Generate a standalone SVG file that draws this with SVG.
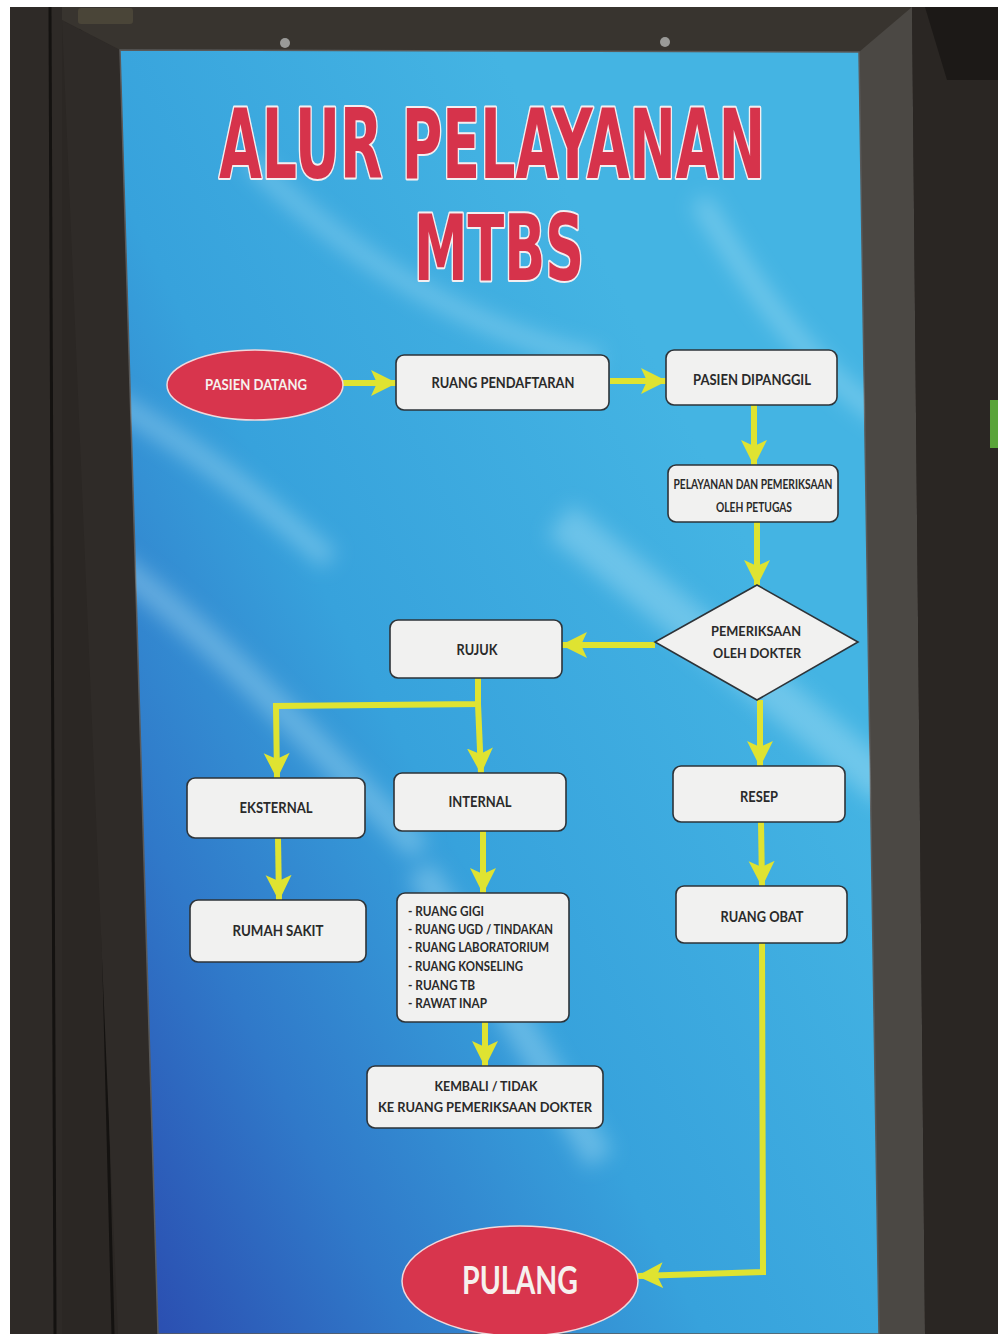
<svg xmlns="http://www.w3.org/2000/svg" width="998" height="1334" viewBox="0 0 998 1334">
<style>
.box{fill:#f1f1f0;stroke:#2d3338;stroke-width:1.6}
.t{font-family:Lato,"Open Sans","Noto Sans",sans-serif;font-weight:700;fill:#2a2a2a;font-size:15px}
.s{font-size:13px}
.big{font-size:38px}
.w{fill:#f6f1ee}
.red{fill:#d8354d;stroke:#f0d8dc;stroke-width:1.5}
.title{font-family:"Liberation Sans Narrow","DejaVu Sans Condensed","DejaVu Sans",sans-serif;font-weight:700;fill:#d6334b;stroke:#f4eef0;stroke-width:4;paint-order:stroke fill;stroke-linejoin:round}
.c{fill:none;stroke:#dfe331;stroke-width:6}
</style>
<defs>
<linearGradient id="bg" x1="0.8" y1="0.35" x2="0.05" y2="1">
<stop offset="0" stop-color="#44b4e3"/>
<stop offset="0.45" stop-color="#37a2dc"/>
<stop offset="0.75" stop-color="#3079c9"/>
<stop offset="1" stop-color="#2b4fb1"/>
</linearGradient>
<clipPath id="poster"><polygon points="120,50 859,52 879,1334 158,1334"/></clipPath>
<filter id="blur" x="-20%" y="-20%" width="140%" height="140%"><feGaussianBlur stdDeviation="10"/></filter>
<marker id="ah" markerUnits="userSpaceOnUse" markerWidth="28" markerHeight="28" refX="25" refY="13" orient="auto">
<path d="M0,0 L26,13 L0,26 L6,13 z" fill="#dfe331"/>
</marker>
</defs>
<g id="background">
<rect width="998" height="1334" fill="#ffffff"/>
<rect x="10" y="7" width="988" height="1327" fill="#2b2724"/>
<polygon points="10,7 62,7 62,1334 10,1334" fill="#2e2a27"/>
<line x1="50" y1="7" x2="55" y2="1334" stroke="#141210" stroke-width="3"/>
<line x1="80" y1="7" x2="113" y2="1334" stroke="#141210" stroke-width="3"/>
<polygon points="62,20 120,50 158,1334 118,1334" fill="#2f2b28"/>
<polygon points="62,7 930,7 859,52 120,50 62,20" fill="#38342f"/>
<polygon points="859,52 912,7 925,1334 879,1334" fill="#4b4844"/>
<polygon points="912,7 998,7 998,1334 925,1334" fill="#2a2623"/>
<polygon points="925,7 998,7 998,80 947,80" fill="#1c1917"/>
<rect x="990" y="400" width="8" height="48" fill="#5aa43a"/>
<rect x="78" y="8" width="55" height="16" rx="3" fill="#4a4538"/>
<circle cx="285" cy="43" r="5" fill="#9a9a98"/>
<circle cx="665" cy="42" r="5" fill="#9a9a98"/>
<polygon points="120,50 859,52 879,1334 158,1334" fill="url(#bg)" stroke="#5a5a5a" stroke-width="1.5"/>
<g clip-path="url(#poster)">
<g filter="url(#blur)" fill="none" stroke="#bfeaf8" stroke-opacity="0.35">
<path d="M110,400 C200,450 260,500 330,560" stroke-width="22"/>
<path d="M560,520 C660,600 760,680 890,790" stroke-width="40"/>
<path d="M110,560 C220,640 330,760 420,850" stroke-width="26"/>
<path d="M420,870 C480,960 540,1060 600,1160" stroke-width="30"/>
<path d="M250,160 C350,260 470,330 600,360" stroke-width="18"/>
<path d="M700,200 C760,300 820,380 890,420" stroke-width="20"/>
</g>
</g>
</g>
<g id="title">
<text class="title" x="492" y="178" font-size="96" text-anchor="middle" textLength="546" lengthAdjust="spacingAndGlyphs">ALUR PELAYANAN</text>
<text class="title" x="499" y="280" font-size="90" text-anchor="middle" textLength="170" lengthAdjust="spacingAndGlyphs">MTBS</text>
</g>
<g id="connectors">
<path class="c" d="M343,383 L396,383" marker-end="url(#ah)"/>
<path class="c" d="M610,381 L666,381" marker-end="url(#ah)"/>
<path class="c" d="M754,405 L754,465" marker-end="url(#ah)"/>
<path class="c" d="M757,522 L757,585" marker-end="url(#ah)"/>
<path class="c" d="M655,645 L562,645" marker-end="url(#ah)"/>
<path class="c" d="M760,700 L760,766" marker-end="url(#ah)"/>
<path class="c" d="M478,678 L478,704 L276,706 L277,778" marker-end="url(#ah)"/>
<path class="c" d="M478,704 L481,773" marker-end="url(#ah)"/>
<path class="c" d="M278,838 L279,900" marker-end="url(#ah)"/>
<path class="c" d="M483,831 L483,893" marker-end="url(#ah)"/>
<path class="c" d="M485,1022 L485,1066" marker-end="url(#ah)"/>
<path class="c" d="M761,822 L762,886" marker-end="url(#ah)"/>
<path class="c" d="M762,943 L763,1272 L638,1276" marker-end="url(#ah)"/>
</g>
<g id="pasien-datang">
<ellipse class="red" cx="255" cy="385" rx="88" ry="35"/>
<text class="t w" x="256" y="390" text-anchor="middle" textLength="102" lengthAdjust="spacingAndGlyphs">PASIEN DATANG</text>
</g>
<g id="ruang-pendaftaran">
<rect class="box" x="396" y="355" width="213" height="55" rx="8"/>
<text class="t" x="503" y="388" text-anchor="middle" textLength="143" lengthAdjust="spacingAndGlyphs">RUANG PENDAFTARAN</text>
</g>
<g id="pasien-dipanggil">
<rect class="box" x="666" y="350" width="171" height="55" rx="8"/>
<text class="t" x="752" y="385" text-anchor="middle" textLength="118" lengthAdjust="spacingAndGlyphs">PASIEN DIPANGGIL</text>
</g>
<g id="pelayanan">
<rect class="box" x="668" y="465" width="170" height="57" rx="8"/>
<text class="t s" x="753" y="489" text-anchor="middle" textLength="159" lengthAdjust="spacingAndGlyphs">PELAYANAN DAN PEMERIKSAAN</text>
<text class="t s" x="754" y="512" text-anchor="middle" textLength="76" lengthAdjust="spacingAndGlyphs">OLEH PETUGAS</text>
</g>
<g id="pemeriksaan-dokter">
<polygon class="box" points="757,585 858,642 757,700 655,642"/>
<text class="t s" x="756" y="636" text-anchor="middle" textLength="90" lengthAdjust="spacingAndGlyphs">PEMERIKSAAN</text>
<text class="t s" x="757" y="658" text-anchor="middle" textLength="88" lengthAdjust="spacingAndGlyphs">OLEH DOKTER</text>
</g>
<g id="rujuk">
<rect class="box" x="390" y="620" width="172" height="58" rx="8"/>
<text class="t" x="477" y="655" text-anchor="middle" textLength="41" lengthAdjust="spacingAndGlyphs">RUJUK</text>
</g>
<g id="eksternal">
<rect class="box" x="187" y="778" width="178" height="60" rx="8"/>
<text class="t" x="276" y="813" text-anchor="middle" textLength="73" lengthAdjust="spacingAndGlyphs">EKSTERNAL</text>
</g>
<g id="internal">
<rect class="box" x="394" y="773" width="172" height="58" rx="8"/>
<text class="t" x="480" y="807" text-anchor="middle" textLength="63" lengthAdjust="spacingAndGlyphs">INTERNAL</text>
</g>
<g id="resep">
<rect class="box" x="673" y="766" width="172" height="56" rx="8"/>
<text class="t" x="759" y="802" text-anchor="middle" textLength="38" lengthAdjust="spacingAndGlyphs">RESEP</text>
</g>
<g id="rumah-sakit">
<rect class="box" x="190" y="900" width="176" height="62" rx="8"/>
<text class="t" x="278" y="936" text-anchor="middle" textLength="91" lengthAdjust="spacingAndGlyphs">RUMAH SAKIT</text>
</g>
<g id="daftar-ruang">
<rect class="box" x="397" y="893" width="172" height="129" rx="8"/>
<text class="t s" x="408" y="916" textLength="76" lengthAdjust="spacingAndGlyphs">- RUANG GIGI</text>
<text class="t s" x="408" y="934" textLength="145" lengthAdjust="spacingAndGlyphs">- RUANG UGD / TINDAKAN</text>
<text class="t s" x="408" y="952" textLength="141" lengthAdjust="spacingAndGlyphs">- RUANG LABORATORIUM</text>
<text class="t s" x="408" y="971" textLength="115" lengthAdjust="spacingAndGlyphs">- RUANG KONSELING</text>
<text class="t s" x="408" y="990" textLength="67" lengthAdjust="spacingAndGlyphs">- RUANG TB</text>
<text class="t s" x="408" y="1008" textLength="79" lengthAdjust="spacingAndGlyphs">- RAWAT INAP</text>
</g>
<g id="ruang-obat">
<rect class="box" x="676" y="886" width="171" height="57" rx="8"/>
<text class="t" x="762" y="922" text-anchor="middle" textLength="83" lengthAdjust="spacingAndGlyphs">RUANG OBAT</text>
</g>
<g id="kembali">
<rect class="box" x="367" y="1066" width="236" height="62" rx="8"/>
<text class="t s" x="486" y="1091" text-anchor="middle" textLength="103" lengthAdjust="spacingAndGlyphs">KEMBALI / TIDAK</text>
<text class="t s" x="485" y="1112" text-anchor="middle" textLength="214" lengthAdjust="spacingAndGlyphs">KE RUANG PEMERIKSAAN DOKTER</text>
</g>
<g id="pulang">
<ellipse class="red" cx="520" cy="1281" rx="118" ry="55"/>
<text class="t w big" x="520" y="1294" text-anchor="middle" textLength="116" lengthAdjust="spacingAndGlyphs">PULANG</text>
</g>
</svg>
